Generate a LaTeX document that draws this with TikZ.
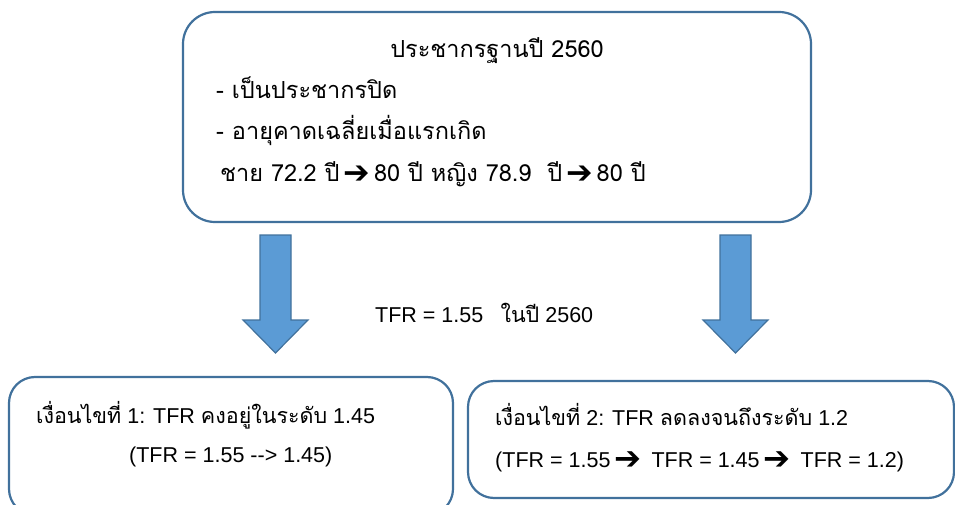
\documentclass[tikz,border=0pt]{standalone}
\usepackage{fontspec}
\setmainfont{Liberation Sans}
\newfontfamily\thaifont[Script=Thai]{Loma}
\newfontfamily\symfont{DejaVu Sans}
\newcommand\tht[1]{{\thaifont #1}}
\newcommand\rarr{\,\raisebox{-0.08em}{\scalebox{1.35}{\symfont\bfseries ➔}}\,}
\newcommand\rarrb{\hspace{0.2em}\raisebox{-0.1em}{\scalebox{1.5}{\symfont\bfseries ➔}}\hspace{0.45em}}
\definecolor{edgeblue}{HTML}{41719C}
\definecolor{fillblue}{HTML}{5B9BD5}
\tikzset{
  roundbox/.style={draw=edgeblue, line width=2.2pt, fill=white},
  blockarrow/.style={draw=edgeblue, line width=1.2pt, fill=fillblue, line join=miter},
  txt/.style={anchor=base west, inner sep=0pt, font=\fontsize{21.5}{26}\selectfont},
  thtxt/.style={anchor=base west, inner sep=0pt, font=\fontsize{23.5}{28}\thaifont},
}
\begin{document}
\begin{tikzpicture}[x=1pt,y=-1pt]
\useasboundingbox (0,0) rectangle (955,505);
% boxes
\node[roundbox, rounded corners=32pt, minimum width=628pt, minimum height=210pt] (topbox) at (497,117) {};
\begin{scope}
\clip (0,0) rectangle (955,505);
\node[roundbox, rounded corners=26pt, minimum width=444pt, minimum height=138pt] (leftbox) at (231,446) {};
\end{scope}
\node[roundbox, rounded corners=26pt, minimum width=486pt, minimum height=117pt] (rightbox) at (711,439.5) {};
% block arrows
\draw[blockarrow] (260,235) -- (291,235) -- (291,320) -- (308,320) -- (275.5,353) -- (243,320) -- (260,320) -- cycle;
\draw[blockarrow] (720,235) -- (751,235) -- (751,320) -- (768,320) -- (735.5,353) -- (703,320) -- (720,320) -- cycle;
% top box text
\node[thtxt, anchor=base] (t1) at (497,58) {ประชากรฐานปี 2560};
\node[thtxt] (t2) at (216,99) {- เป็นประชากรปิด};
\node[thtxt] (t3) at (216,140) {- อายุคาดเฉลี่ยเมื่อแรกเกิด};
\node[thtxt] (t4) at (220,182) {ชาย 72.2 ปี\rarr 80 ปี หญิง 78.9\ \ ปี\rarr 80 ปี};
% middle label
\node[txt] (tfr) at (375,322) {TFR = 1.55\hspace{0.8em}\tht{ในปี} 2560};
% bottom left
\node[txt] (l1) at (36,423) {\tht{เงื่อนไขที่} 1: TFR \tht{คงอยู่ในระดับ} 1.45};
\node[txt] (l2) at (129,462) {(TFR = 1.55 -{}-{}> 1.45)};
% bottom right
\node[txt] (r1) at (495,425) {\tht{เงื่อนไขที่} 2: TFR \tht{ลดลงจนถึงระดับ} 1.2};
\node[txt] (r2) at (495,467) {(TFR = 1.55\rarrb TFR = 1.45\rarrb TFR = 1.2)};
\end{tikzpicture}
\end{document}
